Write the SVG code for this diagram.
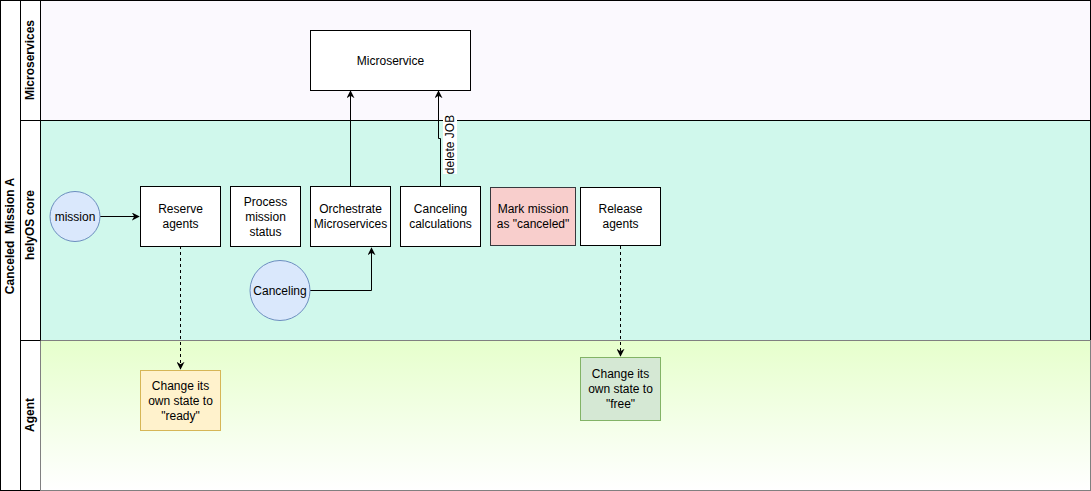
<svg xmlns="http://www.w3.org/2000/svg" width="1091" height="491" viewBox="0 0 1091 491">
<defs>
<linearGradient id="agentGrad" x1="0" y1="0" x2="0" y2="1">
<stop offset="0" stop-color="#e6ffcc"/>
<stop offset="1" stop-color="#ffffff"/>
</linearGradient>
<marker id="arr" viewBox="0 0 10 10" refX="9" refY="5" markerWidth="8" markerHeight="8" markerUnits="userSpaceOnUse" orient="auto">
<path d="M0,0 L10,5 L0,10 L3,5 Z" fill="#000"/>
</marker>
</defs>
<style>
text{font-family:"Liberation Sans",Arial,sans-serif;font-size:12px;fill:#000;text-anchor:middle;dominant-baseline:central}
.lbl{font-weight:bold;white-space:pre}
.box{fill:#fff;stroke:#000;stroke-width:1}
.circ{fill:#dae8fc;stroke:#6c8ebf;stroke-width:1}
.edge{fill:none;stroke:#000;stroke-width:1}
.dash{stroke-dasharray:3,3}
</style>
<g id="pool">
<rect x="0.5" y="0.5" width="1090" height="490" fill="#fff" stroke="#000"/>
<rect x="40.5" y="0.5" width="1050" height="120" fill="#fbf9fe" stroke="#000"/>
<rect x="40.5" y="120.5" width="1050" height="220" fill="#d0f8ec" stroke="#000"/>
<rect x="40.5" y="340.5" width="1050" height="150" fill="url(#agentGrad)" stroke="#808080"/>
<line x1="20.5" y1="0.5" x2="20.5" y2="490.5" stroke="#000"/>
<line x1="20.5" y1="120.5" x2="40.5" y2="120.5" stroke="#000"/>
<line x1="20.5" y1="340.5" x2="40.5" y2="340.5" stroke="#000"/>
<text class="lbl" xml:space="preserve" transform="translate(10,236) rotate(-90)">Canceled  Mission A</text>
<text class="lbl" transform="translate(30,60) rotate(-90)">Microservices</text>
<text class="lbl" transform="translate(30,225) rotate(-90)">helyOS core</text>
<text class="lbl" transform="translate(30,415) rotate(-90)">Agent</text>
</g>
<g id="connectors">
<path class="edge" d="M100,216.5 H139" marker-end="url(#arr)"/>
<path class="edge" d="M350.5,186 V91" marker-end="url(#arr)"/>
<path class="edge" d="M440.5,186 V138.5 H438.5 V91" marker-end="url(#arr)"/>
<rect x="443" y="115" width="14" height="59" fill="#fff"/>
<text transform="translate(450,144.5) rotate(-90)" font-size="11">delete JOB</text>
<path class="edge" d="M310,290.5 H371.5 V248" marker-end="url(#arr)"/>
<path class="edge dash" d="M180.5,246 V369" marker-end="url(#arr)"/>
<path class="edge dash" d="M620.5,246 V356" marker-end="url(#arr)"/>
</g>
<g id="microservice">
<rect class="box" x="310.5" y="30.5" width="160" height="60"/>
<text x="390.5" y="60.5">Microservice</text>
</g>
<g id="mission">
<circle class="circ" cx="75" cy="216.5" r="25"/>
<text x="75" y="216.5">mission</text>
</g>
<g id="reserve">
<rect class="box" x="140.5" y="186.5" width="80" height="60"/>
<text x="180.5" y="209">Reserve</text>
<text x="180.5" y="224">agents</text>
</g>
<g id="process">
<rect class="box" x="230.5" y="186.5" width="70" height="60"/>
<text x="265.5" y="201.5">Process</text>
<text x="265.5" y="216.5">mission</text>
<text x="265.5" y="231.5">status</text>
</g>
<g id="orchestrate">
<rect class="box" x="310.5" y="186.5" width="80" height="60"/>
<text x="350.5" y="209">Orchestrate</text>
<text x="350.5" y="224">Microservices</text>
</g>
<g id="canceling-calc">
<rect class="box" x="400.5" y="186.5" width="80" height="60"/>
<text x="440.5" y="209">Canceling</text>
<text x="440.5" y="224">calculations</text>
</g>
<g id="mark">
<rect x="490.5" y="187.5" width="85" height="58" fill="#f8cecc" stroke="#36393d"/>
<text x="533" y="209">Mark mission</text>
<text x="533" y="224">as "canceled"</text>
</g>
<g id="release">
<rect class="box" x="580.5" y="187.5" width="80" height="58"/>
<text x="620.5" y="209">Release</text>
<text x="620.5" y="224">agents</text>
</g>
<g id="canceling">
<circle class="circ" cx="280" cy="290.5" r="30"/>
<text x="280" y="290.5">Canceling</text>
</g>
<g id="ready">
<rect x="140.5" y="370.5" width="80" height="60" fill="#fff2cc" stroke="#d6b656"/>
<text x="180.5" y="385.5">Change its</text>
<text x="180.5" y="400.5">own state to</text>
<text x="180.5" y="415.5">"ready"</text>
</g>
<g id="free">
<rect x="580.5" y="357.5" width="80" height="63" fill="#d5e8d4" stroke="#82b366"/>
<text x="620.5" y="374">Change its</text>
<text x="620.5" y="389">own state to</text>
<text x="620.5" y="404">"free"</text>
</g>
</svg>
